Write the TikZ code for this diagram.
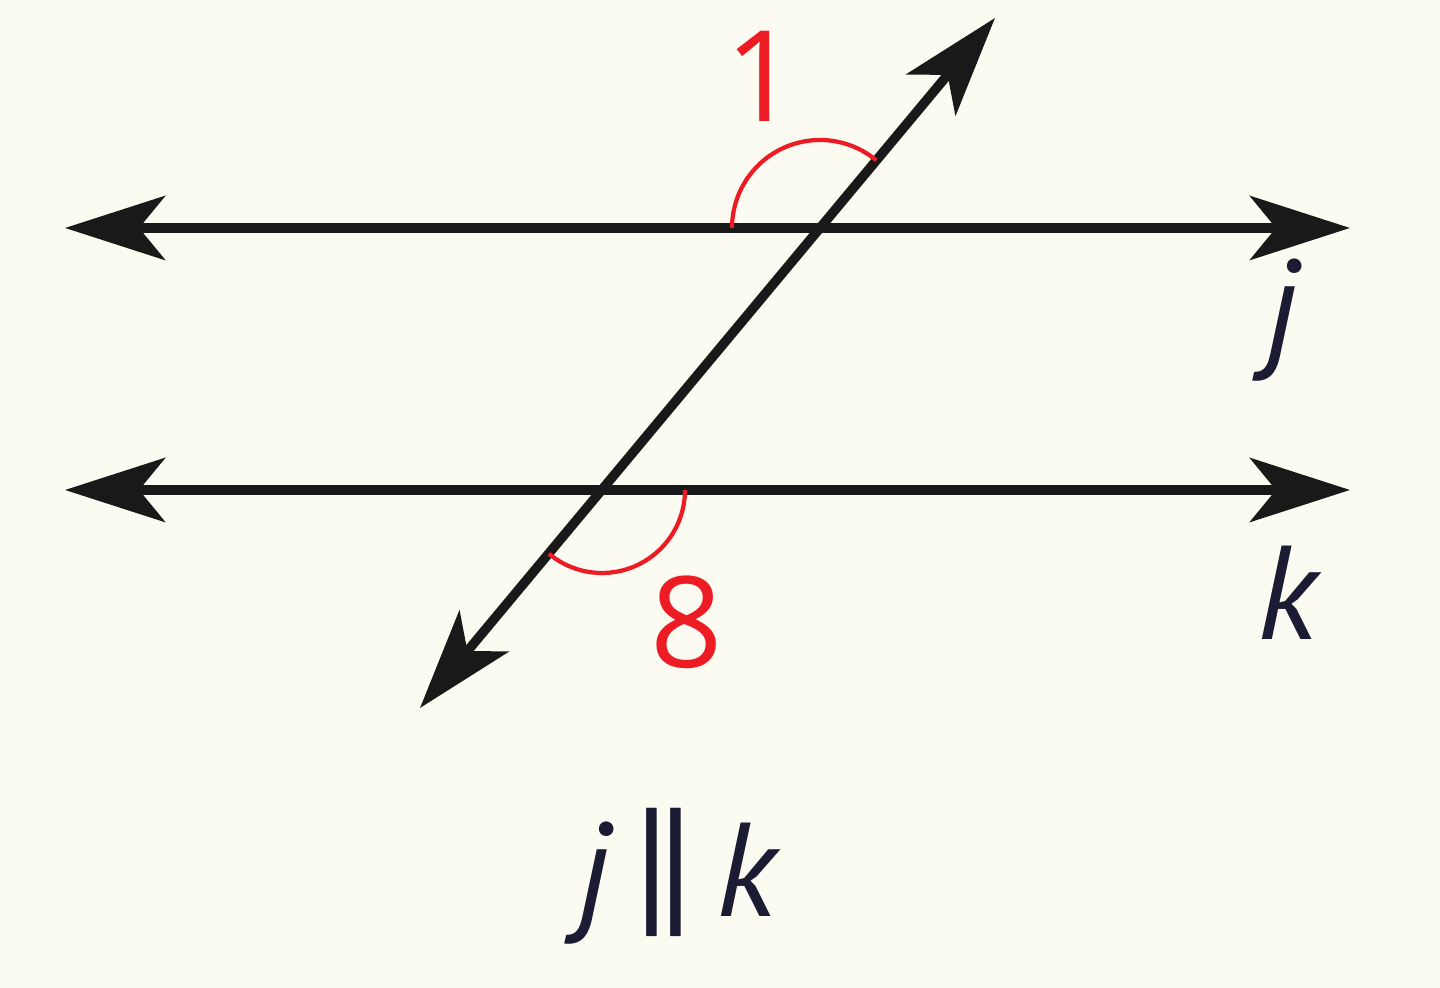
\documentclass[tikz,border=0pt]{standalone}
\usepackage{fontspec}
\setmainfont{PT Sans}
\newfontfamily\numfont{Open Sans}
\usepackage{tikz}
\usepackage{color}
\usetikzlibrary{positioning,arrows.meta}

\definecolor{bgcream}{HTML}{FCFBF2}
\definecolor{anglered}{HTML}{ED1C24}
\definecolor{labelink}{HTML}{1B1B33}

\tikzset{
  lineboth/.style={line width=2.7pt, black!90,
    {Stealth[length=10mm, width=6.4mm, inset=2.6mm]}-{Stealth[length=10mm, width=6.4mm, inset=2.6mm]}},
  anglearc/.style={line width=1.2pt, anglered},
  anglenum/.style={text=anglered, font=\numfont\fontsize{36}{40}\selectfont},
  linename/.style={text=labelink, font=\fontsize{38}{40}\selectfont\itshape}
}

\begin{document}
\begin{tikzpicture}

		% Background and page size
		\fill[bgcream] (0,0) rectangle (14.4,9.88);
		\useasboundingbox (0,0) rectangle (14.4,9.88);

		% Place the end points
		\coordinate (jleft) at (0.65,7.60);
		\coordinate (jright) at (13.50,7.60);
		\coordinate (kleft) at (0.65,4.98);
		\coordinate (kright) at (13.50,4.98);
		\coordinate (tlow) at (4.20,2.80);
		\coordinate (thigh) at (9.95,9.70);
		\coordinate (cutj) at (8.20,7.60);
		\coordinate (cutk) at (6.02,4.98);

		% Draw the lines
		\draw[lineboth] (jleft) -- (jright);
		\draw[lineboth] (kleft) -- (kright);
		\draw[lineboth] (tlow) -- (thigh);

		% Draw the angle marks
		\draw[anglearc] (cutj) ++(50.2:0.88) arc[start angle=50.2, end angle=180, radius=0.88];
		\draw[anglearc] (cutk) ++(230.2:0.83) arc[start angle=230.2, end angle=360, radius=0.83];

		% Place the labels
		\node[anglenum] (one) at (7.62,9.12) {1};
		\node[anglenum] (eight) at (6.87,3.66) {8};
		\node[linename] (jname) at (12.82,6.68) {j};
		\node[linename] (kname) at (12.87,3.95) {k};
		\node[linename] (par) at (6.77,1.12) {j\,{\upshape\fontsize{44}{44}\selectfont|\kern-0.08em|}\,k};

	\end{tikzpicture}
\end{document}
